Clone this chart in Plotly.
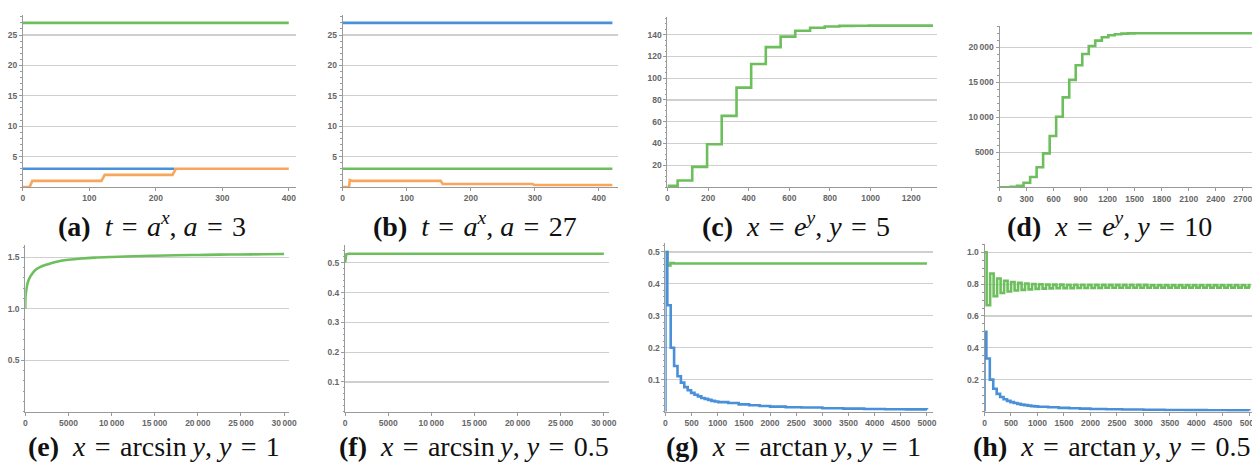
import plotly.graph_objects as go

W, H = 1252, 464          # reference pixel frame
FIG_W = 1261              # rendered width (compensates the page-to-window fit)
BLUE = "#4A90D9"
ORANGE = "#F8A65C"
GREEN = "#6CBF5C"
AXC = "#9a9a9a"
GRIDC = "#cfcfcf"
TICKC = "#666666"

# ---------------- data ----------------
# (a) t = a^x, a = 3
A_GREEN_X = [0, 400]
A_GREEN_Y = [27, 27]
A_BLUE_X = [0, 228]
A_BLUE_Y = [3, 3]
A_ORANGE_X = [0, 10, 14, 118, 123, 225, 230, 400]
A_ORANGE_Y = [0, 0, 1, 1, 2, 2, 3, 3]

# (b) t = a^x, a = 27
B_BLUE_X = [0, 421]
B_BLUE_Y = [27, 27]
B_GREEN_X = [0, 421]
B_GREEN_Y = [3, 3]
B_ORANGE_X = [0, 10, 11, 15, 153, 156, 296, 299, 421]
B_ORANGE_Y = [0, 0, 1.15, 1.0, 1.0, 0.5, 0.5, 0.33, 0.33]

# (c) x = e^y, y = 5
C_X = [0, 50, 122, 195, 267, 340, 412, 484, 557, 629, 702, 774, 846, 919, 991, 1063, 1307]
C_Y = [1, 6, 18.5, 39.3, 65.4, 91.4, 113.1, 128.6, 138.3, 143.7, 146.4, 147.6, 148.1, 148.3, 148.4, 148.4, 148.4]

# (d) x = e^y, y = 10
D_X = [0, 50, 122, 195, 267, 340, 412, 484, 557, 629, 702, 774, 846, 919, 991, 1063,
       1136, 1208, 1280, 1353, 1425, 1500, 2900]
D_Y = [1, 11, 61, 228, 644, 1477, 2866, 4850, 7330, 10086, 12842, 15347, 17435, 19041,
       20188, 20953, 21431, 21712, 21868, 21950, 21991, 22010, 22026]

# (e) x = arcsin y, y = 1
E_X = [0, 20, 60, 150, 300, 500, 800, 1200, 1700, 2500, 3500, 5000, 6500, 8000, 10000,
       12500, 15000, 17500, 20000, 22500, 25000, 27500, 30000]
E_Y = [1.00, 1.10, 1.15, 1.20, 1.26, 1.30, 1.34, 1.38, 1.405, 1.43, 1.455, 1.476, 1.489,
       1.497, 1.504, 1.511, 1.516, 1.520, 1.523, 1.526, 1.528, 1.530, 1.532]

# (f) x = arcsin y, y = 0.5
F_X = [0, 60, 150, 400, 30000]
F_Y = [0.50, 0.52, 0.528, 0.53, 0.53]

# (g) x = arctan y, y = 1
G_GREEN_X = [0, 40, 95, 160, 5000]
G_GREEN_Y = [0.5, 0.458, 0.465, 0.4636, 0.4636]
G_BLUE_X = [0, 0, 35, 100, 165, 230, 295, 360, 425, 490, 555, 620, 685, 750, 815, 880, 945,
            1010, 1200, 1400, 1600, 1800, 2000, 2300, 2600, 3000, 3400, 3800, 4200, 4600, 5000]
G_BLUE_Y = [0, 0.5, 0.333, 0.2, 0.143, 0.111, 0.091, 0.077, 0.067, 0.059, 0.053, 0.048,
            0.043, 0.040, 0.037, 0.034, 0.032, 0.030, 0.027, 0.023, 0.020, 0.018, 0.016,
            0.014, 0.013, 0.011, 0.0095, 0.0085, 0.0078, 0.0072, 0.0066]

# (h) x = arctan y, y = 0.5
H_BLUE_X = G_BLUE_X
H_BLUE_Y = G_BLUE_Y
H_GREEN_X = [0] + list(range(40, 5000, 66)) + [5000]
H_GREEN_Y = [1.0,
             0.667, 0.867, 0.724, 0.835, 0.744, 0.821, 0.754, 0.813, 0.760, 0.808,
             0.764, 0.804, 0.767, 0.801, 0.770, 0.799, 0.772, 0.798, 0.773, 0.797,
             0.774, 0.797, 0.775, 0.796, 0.775, 0.796, 0.776, 0.796, 0.776, 0.796,
             0.776, 0.795, 0.776, 0.795, 0.777, 0.795, 0.777, 0.795, 0.777, 0.795,
             0.777, 0.795, 0.777, 0.795, 0.777, 0.795, 0.777, 0.794, 0.777, 0.794,
             0.778, 0.794, 0.778, 0.794, 0.778, 0.794, 0.778, 0.794, 0.778, 0.794,
             0.778, 0.794, 0.778, 0.794, 0.778, 0.794, 0.778, 0.794, 0.778, 0.794,
             0.778, 0.794, 0.778, 0.794, 0.778, 0.794, 0.778, 0.794]

TS = "\u2009"
A_XT = [0, 100, 200, 300, 400]
A_YT = [5, 10, 15, 20, 25]
C_XT = [0, 200, 400, 600, 800, 1000, 1200]
C_YT = [20, 40, 60, 80, 100, 120, 140]
D_XT = [0, 300, 600, 900, 1200, 1500, 1800, 2100, 2400, 2700]
D_YT = [5000, 10000, 15000, 20000]
E_XT = [0, 5000, 10000, 15000, 20000, 25000, 30000]
E_YT = [0.5, 1.0, 1.5]
E_YL = ["0.5", "1.0", "1.5"]
F_YT = [0.1, 0.2, 0.3, 0.4, 0.5]
G_XT = [0, 500, 1000, 1500, 2000, 2500, 3000, 3500, 4000, 4500, 5000]
G_YT = [0.1, 0.2, 0.3, 0.4, 0.5]
H_YT = [0.2, 0.4, 0.6, 0.8, 1.0]
H_YL = ["0.2", "0.4", "0.6", "0.8", "1.0"]

SP = "\u2004"
CAPTIONS = [
    f"<b>(a)</b>\u2002<i>t</i>{SP}={SP}<i>a<sup>x</sup></i>, <i>a</i>{SP}={SP}3",
    f"<b>(b)</b>\u2002<i>t</i>{SP}={SP}<i>a<sup>x</sup></i>, <i>a</i>{SP}={SP}27",
    f"<b>(c)</b>\u2002<i>x</i>{SP}={SP}<i>e<sup>y</sup></i>, <i>y</i>{SP}={SP}5",
    f"<b>(d)</b>\u2002<i>x</i>{SP}={SP}<i>e<sup>y</sup></i>, <i>y</i>{SP}={SP}10",
    f"<b>(e)</b>\u2002<i>x</i>{SP}={SP}arcsin\u2009<i>y</i>, <i>y</i>{SP}={SP}1",
    f"<b>(f)</b>\u2002<i>x</i>{SP}={SP}arcsin\u2009<i>y</i>, <i>y</i>{SP}={SP}0.5",
    f"<b>(g)</b>\u2002<i>x</i>{SP}={SP}arctan\u2009<i>y</i>, <i>y</i>{SP}={SP}1",
    f"<b>(h)</b>\u2002<i>x</i>{SP}={SP}arctan\u2009<i>y</i>, <i>y</i>{SP}={SP}0.5",
]


def fmt(v):
    s = str(int(v))
    if len(s) > 4:
        s = s[:-3] + TS + s[-3:]
    return s


# ---------------- layout geometry (reference pixels) ----------------
# x0, x1 (left/right of plot), y_top, y_bottom, xmax, ymax
BOX = [
    (21, 294, 15, 187, 410.5, 28.3),
    (341, 616, 15, 187, 429, 28.3),
    (666, 936, 17, 187, 1328, 156.3),
    (998.3, 1252, 25.7, 187.3, 2814, 23086),
    (23.3, 287, 245, 411.7, 30544, 1.62),
    (343.3, 607.3, 245, 411.8, 30579, 0.5594),
    (664, 931.7, 243.3, 411.7, 5115, 0.527),
    (983.3, 1252, 244, 411.5, 5070, 1.052),
]
CAP_POS = [(150, 224), (473, 224), (795, 224), (1108, 224),
           (152, 446), (472, 446), (792, 446), (1110, 446)]

XT = [A_XT, A_XT, C_XT, D_XT, E_XT, E_XT, G_XT, G_XT]
YT = [A_YT, A_YT, C_YT, D_YT, E_YT, F_YT, G_YT, H_YT]
YL = [None, None, None, None, E_YL, None, None, H_YL]
YMINOR = [1, 1, 5, 1000, 0.1, 0.02, 0.02, 0.05]

SERIES = [
    [(A_GREEN_X, A_GREEN_Y, GREEN, "linear"), (A_BLUE_X, A_BLUE_Y, BLUE, "linear"),
     (A_ORANGE_X, A_ORANGE_Y, ORANGE, "linear")],
    [(B_BLUE_X, B_BLUE_Y, BLUE, "linear"), (B_GREEN_X, B_GREEN_Y, GREEN, "linear"),
     (B_ORANGE_X, B_ORANGE_Y, ORANGE, "linear")],
    [(C_X, C_Y, GREEN, "hv")],
    [(D_X, D_Y, GREEN, "hv")],
    [(E_X, E_Y, GREEN, "spline")],
    [(F_X, F_Y, GREEN, "linear")],
    [(G_GREEN_X, G_GREEN_Y, GREEN, "hv"), (G_BLUE_X, G_BLUE_Y, BLUE, "hv")],
    [(H_GREEN_X, H_GREEN_Y, GREEN, "hv"), (H_BLUE_X, H_BLUE_Y, BLUE, "hv")],
]

fig = go.Figure()
tickfont = dict(family="Liberation Sans", size=8.5, color=TICKC, weight="bold")

for i in range(8):
    n = i + 1
    sfx = "" if n == 1 else str(n)
    x0, x1, yt, yb, xmax, ymax = BOX[i]
    for xs, ys, col, shape in SERIES[i]:
        fig.add_trace(go.Scatter(
            x=xs, y=ys, mode="lines",
            line=dict(color=col, width=2.6, shape=shape),
            xaxis="x" + sfx, yaxis="y" + sfx, showlegend=False, hoverinfo="skip"))
    xt = XT[i]
    yt_vals = YT[i]
    ylab = YL[i] if YL[i] is not None else [fmt(v) if v >= 1 else str(v) for v in yt_vals]
    fig.layout["xaxis" + sfx] = dict(
        domain=[x0 / W, x1 / W], range=[0, xmax], anchor="y" + sfx,
        showgrid=False, zeroline=False, showline=True, linecolor=AXC, linewidth=1,
        ticks="outside", ticklen=3, tickcolor=AXC, tickwidth=1,
        tickvals=xt, ticktext=[fmt(v) for v in xt], tickfont=tickfont,
        ticklabeloverflow="allow", fixedrange=True)
    fig.layout["yaxis" + sfx] = dict(
        domain=[1 - yb / H, 1 - yt / H], range=[0, ymax], anchor="x" + sfx,
        showgrid=True, gridcolor=GRIDC, gridwidth=1.2, zeroline=False,
        showline=True, linecolor=AXC, linewidth=1,
        ticks="outside", ticklen=3, tickcolor=AXC, tickwidth=1,
        tickvals=yt_vals, ticktext=ylab, tickfont=tickfont,
        minor=dict(dtick=YMINOR[i], ticks="outside", ticklen=1.5, tickcolor=AXC, showgrid=False),
        fixedrange=True)
    cx, cy = CAP_POS[i]
    fig.add_annotation(
        x=cx / W, y=1 - cy / H, xref="paper", yref="paper", text=CAPTIONS[i],
        showarrow=False, xanchor="center", yanchor="middle",
        font=dict(family="Liberation Serif", size=28, color="#111111"))

fig.update_layout(
    width=FIG_W, height=H, margin=dict(l=0, r=0, t=0, b=0),
    paper_bgcolor="white", plot_bgcolor="white")

fig.write_html(
    "out.html",
    config={"displayModeBar": False, "staticPlot": True},
    post_script=("document.documentElement.style.margin='0';"
                 "document.body.style.margin='0';document.body.style.padding='0';"
                 "document.body.style.overflow='hidden';"
                 "document.documentElement.style.overflow='hidden';"))
